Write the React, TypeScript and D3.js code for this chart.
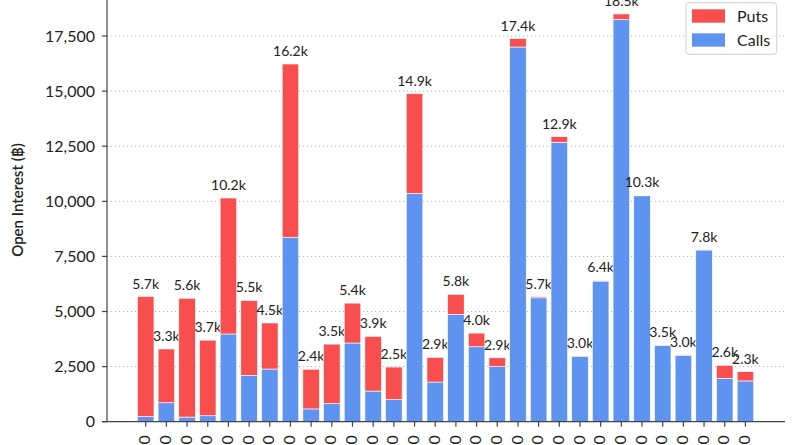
import React from "react";
import * as d3 from "d3";

const strikes = [
  "40000", "45000", "50000", "52000", "55000", "58000", "60000", "62000", "64000", "65000",
  "66000", "68000", "70000", "72000", "74000", "75000", "76000", "78000", "80000", "82000",
  "84000", "85000", "86000", "88000", "90000", "95000", "100000", "110000", "120000", "130000",
];
const calls = [
  230, 860, 210, 270, 3980, 2100, 2390, 8370, 580, 820,
  3570, 1390, 1000, 10360, 1800, 4870, 3400, 2500, 17000, 5620,
  12680, 2960, 6380, 18240, 10250, 3460, 3010, 7790, 1970, 1850,
];
const puts = [
  5450, 2440, 5390, 3430, 6170, 3400, 2090, 7860, 1800, 2700,
  1810, 2480, 1480, 4520, 1120, 910, 620, 400, 380, 50,
  250, 20, 30, 260, 20, 10, 20, 10, 590, 420,
];
const yTicks = [0, 2500, 5000, 7500, 10000, 12500, 15000, 17500];
const seriesNames = ["Puts", "Calls"];

const W = 800;
const H = 445;
const RED = "#f94e4e";
const BLUE = "#5e94ef";
const FONT = "Lato, 'Open Sans', sans-serif";

export default function App() {
  const y = d3.scaleLinear().domain([0, 17500]).range([421.7, 36]);
  const x = d3
    .scaleBand<string>()
    .domain(strikes)
    .range([135.36, 755.76])
    .paddingInner(0.2)
    .paddingOuter(0.1);
  const axisX0 = 107;
  const axisX1 = 785;
  const y0 = y(0);
  const fmt = d3.format(",");

  return (
    <svg
      width={W}
      height={H}
      style={{ position: "absolute", left: 0, top: 0, background: "#fff" }}
      fontFamily={FONT}
    >
      {/* grid */}
      {yTicks.slice(1).map((t) => (
        <line
          key={"g" + t}
          x1={axisX0}
          x2={axisX1}
          y1={y(t)}
          y2={y(t)}
          stroke="#b0b0b0"
          strokeWidth={1}
          strokeDasharray="1.2,2.8"
        />
      ))}
      {/* bars */}
      {strikes.map((s, i) => {
        const bx = x(s)!;
        const bw = x.bandwidth();
        const c = calls[i];
        const p = puts[i];
        const tot = c + p;
        return (
          <g key={"b" + s}>
            <rect x={bx} y={y(c)} width={bw} height={y0 - y(c)} fill={BLUE} stroke="#fff" strokeWidth={0.6} />
            <rect x={bx} y={y(tot)} width={bw} height={y(c) - y(tot)} fill={RED} stroke="#fff" strokeWidth={0.6} />
            <text
              x={bx + bw / 2}
              y={y(tot) - 8}
              textAnchor="middle"
              fontSize={14}
              fill="#222"
            >
              {(tot / 1000).toFixed(1) + "k"}
            </text>
          </g>
        );
      })}
      {/* y axis */}
      <line x1={axisX0} x2={axisX0} y1={-5} y2={y0} stroke="#444" strokeWidth={1.2} />
      {yTicks.map((t) => (
        <g key={"yt" + t}>
          <line x1={axisX0 - 5} x2={axisX0} y1={y(t)} y2={y(t)} stroke="#444" strokeWidth={1.2} />
          <text x={95} y={y(t)} dy="0.35em" textAnchor="end" fontSize={16} fill="#222">
            {fmt(t)}
          </text>
        </g>
      ))}
      <text
        transform={`translate(18,200) rotate(-90)`}
        textAnchor="middle"
        dy="0.35em"
        fontSize={15}
        fontWeight={600}
        fill="#222"
      >
        Open Interest (฿)
      </text>
      {/* x axis */}
      <line x1={axisX0 - 5} x2={axisX1} y1={y0} y2={y0} stroke="#444" strokeWidth={1.2} />
      {strikes.map((s) => {
        const cx = x(s)! + x.bandwidth() / 2;
        return (
          <g key={"xt" + s}>
            <line x1={cx} x2={cx} y1={y0} y2={y0 + 5} stroke="#444" strokeWidth={1.2} />
            <text
              transform={`translate(${cx - 1},${y0 + 13.5}) rotate(-90)`}
              textAnchor="end"
              dy="0.35em"
              fontSize={16}
              fill="#222"
            >
              {s}
            </text>
          </g>
        );
      })}
      {/* legend */}
      <g>
        <rect x={686} y={2.7} width={90.7} height={51.6} rx={3} fill="#fff" fillOpacity={0.85} stroke="#d0d0d0" strokeWidth={1} />
        {seriesNames.map((n, i) => (
          <g key={"l" + n}>
            <rect x={692} y={9.3 + i * 24} width={33} height={13.4} fill={i === 0 ? RED : BLUE} />
            <text x={737} y={16 + i * 24} dy="0.35em" fontSize={16} fill="#222">
              {n}
            </text>
          </g>
        ))}
      </g>
    </svg>
  );
}
